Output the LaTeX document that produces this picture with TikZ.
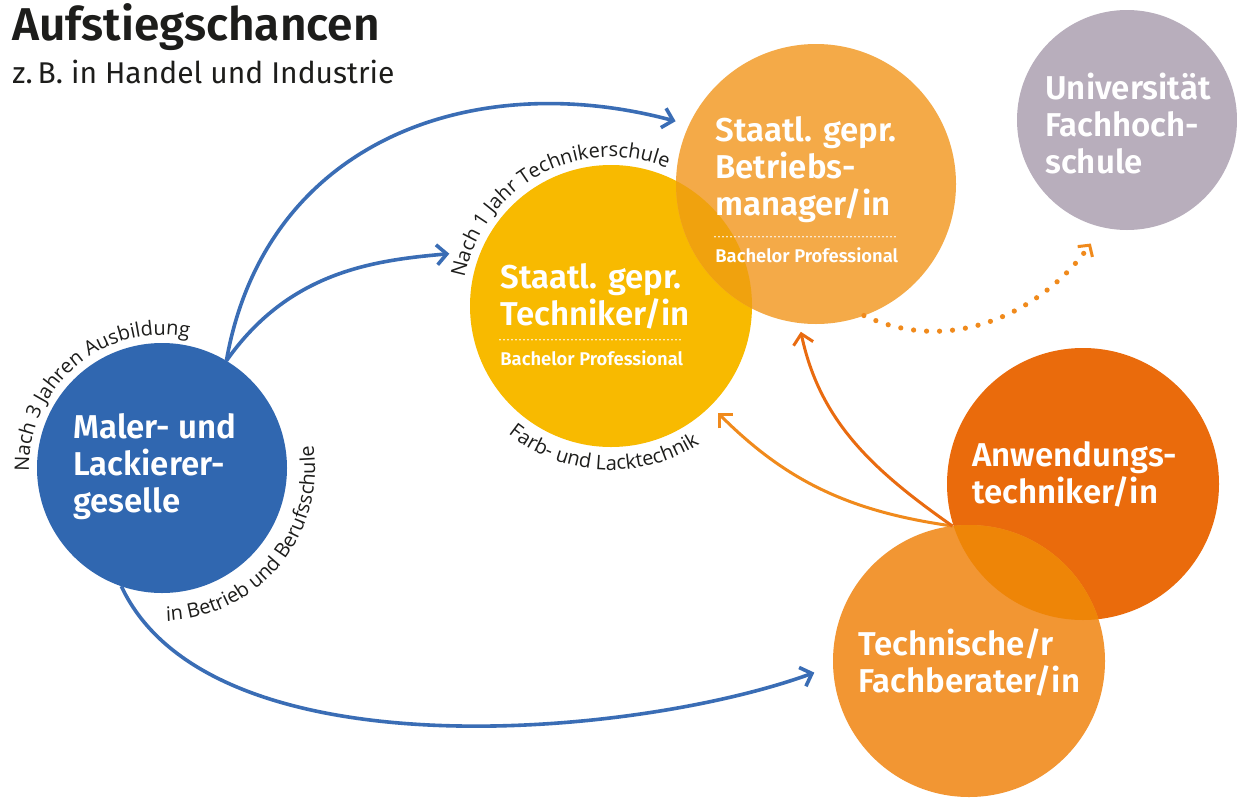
\documentclass[tikz,border=0pt]{standalone}
\usepackage{fontspec}
\setmainfont{Fira Sans}[BoldFont={Fira Sans SemiBold}]
\newfontfamily\arcfont{Open Sans}
\usetikzlibrary{arrows.meta,decorations.text}

\begin{document}
\begin{tikzpicture}[x=0.5pt, y=0.5pt,
  bolla/.style={circle, inner sep=0pt, outer sep=0pt, minimum size=#1pt},
  nome/.style={anchor=base west, inner sep=0pt, align=left, text=white,
    font=\fontsize{16.5}{18.5}\selectfont\bfseries},
  sotto/.style={anchor=base west, inner sep=0pt, text=white,
    font=\fontsize{9.2}{10}\selectfont\bfseries},
  puntini/.style={white, line width=0.9pt, line cap=round, dash pattern=on 0pt off 2pt},
  freccia/.style={line width=1.8pt, -{Straight Barb[length=5pt,width=10pt]}},
  arco/.style={decorate, decoration={text along path, text align=center,
    text color=colTesto, text={|\arcfont\fontsize{10}{12}\selectfont|#1}}}]

% Colori
\definecolor{colMaler}{HTML}{3067B0}
\definecolor{colBlu}{HTML}{3A6DB5}
\definecolor{colTech}{HTML}{F8BA00}
\definecolor{colBetr}{HTML}{F4AA48}
\definecolor{colTechBetr}{HTML}{F0A20E}
\definecolor{colUni}{HTML}{B8AEBC}
\definecolor{colAnw}{HTML}{EA6B0C}
\definecolor{colFach}{HTML}{F29633}
\definecolor{colAnwFach}{HTML}{EE8507}
\definecolor{colArancio}{HTML}{F08A1C}
\definecolor{colArancioScuro}{HTML}{E96B10}
\definecolor{colTesto}{HTML}{1D1D1B}

\path[use as bounding box, fill=white] (0,0) rectangle (1237,-798);

% Titolo
\node[anchor=base west, inner sep=0pt, text=colTesto, font=\fontsize{23}{26}\selectfont\bfseries]
  (titolo) at (12,-40) {Aufstiegschancen};
\node[anchor=base west, inner sep=0pt, text=colTesto, font=\fontsize{15}{17}\selectfont]
  (sottotitolo) at (12,-83) {z.\,B. in Handel und Industrie};

% Cerchi
\node[bolla=125, fill=colMaler] (maler) at (162,-468) {};
\node[bolla=141, fill=colTech] (tech) at (611,-306) {};
\node[bolla=140, fill=colBetr] (betr) at (816,-184) {};
\node[bolla=110, fill=colUni] (uni) at (1127,-120) {};
\node[bolla=136, fill=colAnw] (anw) at (1083,-484) {};
\node[bolla=136, fill=colFach] (fach) at (969,-661) {};

% Sovrapposizioni
\begin{scope}
  \clip (tech.center) circle[radius=141];
  \fill[colTechBetr] (betr.center) circle[radius=140];
\end{scope}
\begin{scope}
  \clip (anw.center) circle[radius=136];
  \fill[colAnwFach] (fach.center) circle[radius=136];
\end{scope}

% Testi nei cerchi (ancora sulla base dell'ultima riga)
\node[nome] (maler-txt) at (73,-512) {Maler- und\\Lackierer-\\geselle};
\node[nome] (tech-txt) at (500,-325) {Staatl. gepr.\\Techniker/in};
\node[sotto] (tech-sub) at (500,-365) {Bachelor Professional};
\draw[puntini] ([yshift=5pt]tech-sub.north west) -- ([yshift=5pt]tech-sub.north east);
\node[nome] (betr-txt) at (715,-215) {Staatl. gepr.\\Betriebs-\\manager/in};
\node[sotto] (betr-sub) at (715,-262) {Bachelor Professional};
\draw[puntini] ([yshift=5pt]betr-sub.north west) -- ([yshift=5pt]betr-sub.north east);
\node[nome] (uni-txt) at (1045,-173) {Universität\\Fachhoch-\\schule};
\node[nome] (anw-txt) at (972,-503) {Anwendungs-\\techniker/in};
\node[nome] (fach-txt) at (858,-692) {Technische/r\\Fachberater/in};

% Scritte lungo i cerchi
\path[arco={Nach 3 Jahren Ausbildung}] ([shift={(197:133)}]maler.center) arc[start angle=197, end angle=63, radius=133];
\path[arco={in Betrieb und Berufsschule}] ([shift={(-105:153)}]maler.center) arc[start angle=-105, end angle=25, radius=153];
\path[arco={Nach 1 Jahr Technikerschule}] ([shift={(180:149)}]tech.center) arc[start angle=180, end angle=57, radius=149];
\path[arco={Farb- und Lacktechnik}] ([shift={(217:164)}]tech.center) arc[start angle=217, end angle=317, radius=164];

% Frecce
\draw[freccia, colBlu, shorten >=7pt] (maler.59) to[out=80, in=165, looseness=1.1] (betr.155);
\draw[freccia, colBlu, shorten >=16pt] (maler.59) to[out=55, in=185] (tech.157);
\draw[freccia, colBlu, shorten >=10pt] (maler.251) to[out=-65, in=200, looseness=0.75] (fach.182);
\draw[freccia, colArancio, line width=1.5pt, shorten >=5pt] (fach.97) to[out=172, in=-45] (tech.-45);
\draw[freccia, colArancioScuro, line width=1.5pt, shorten >=4.5pt] (fach.97) to[out=145, in=-78] (betr.263);
\draw[colArancio, line width=2.6pt, line cap=round, dash pattern=on 0pt off 6.5pt,
  -{Straight Barb[length=4pt,width=9pt,line width=1.5pt 0]}, shorten >=10pt]
  (betr.-70) to[out=-25, in=235] (uni.257);

\end{tikzpicture}
\end{document}
